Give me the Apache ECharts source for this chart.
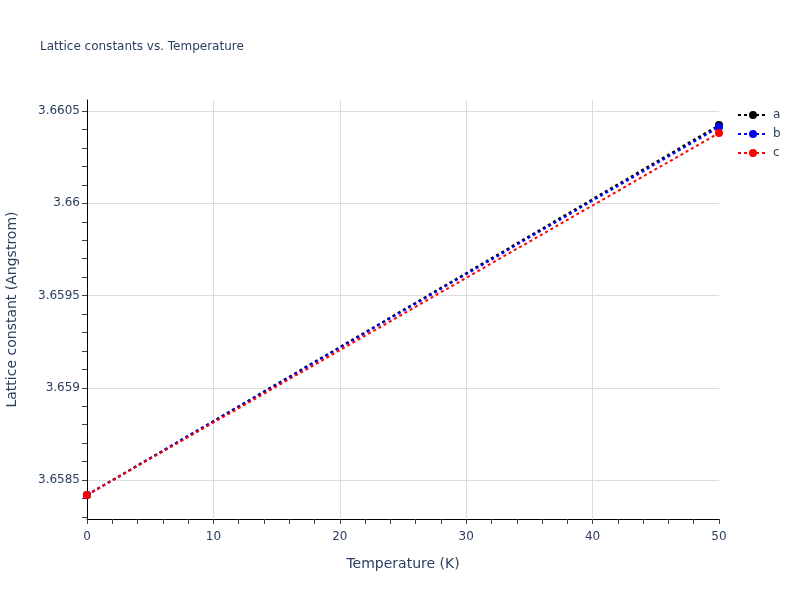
<!DOCTYPE html>
<html>
<head>
<meta charset="utf-8">
<script src="https://cdn.jsdelivr.net/npm/echarts@6/dist/echarts.min.js"></script>
<style>html,body{margin:0;padding:0;background:#fff}#c{width:800px;height:600px}</style>
</head>
<body>
<div id="c"></div>
<script>
const temperatures = [0, 50];
const seriesA = [3.658419, 3.660424];
const seriesB = [3.658419, 3.660413];
const seriesC = [3.658419, 3.660381];
const seriesNames = ['a', 'b', 'c'];
const seriesColors = ['#000000', '#0000ff', '#ff0000'];
const yLabelValues = [3.6585, 3.659, 3.6595, 3.66, 3.6605];
const yMin = 3.658289, yMax = 3.66056;
const yMinorValues = [];
for (let i = 36583; i <= 36605; i++) yMinorValues.push(i / 10000);

const font = '"DejaVu Sans", Verdana, sans-serif';
const txt = '#2a3f5f';
const chart = echarts.init(document.getElementById('c'));
const data = [seriesA, seriesB, seriesC];
chart.setOption({
  animation: false,
  title: {text: 'Lattice constants vs. Temperature', left: 35, top: 36,
    textStyle: {fontFamily: font, fontSize: 12, fontWeight: 'normal', color: txt}},
  legend: {orient: 'vertical', left: 737, top: 109, padding: 0, itemWidth: 30, itemHeight: 10, itemGap: 7,
    textStyle: {fontFamily: font, fontSize: 12, color: txt},
    lineStyle: {width: 2},
    data: seriesNames},
  grid: {left: 87, right: 81, top: 100, bottom: 81, containLabel: false, outerBoundsMode: 'none'},
  xAxis: {type: 'value', min: 0, max: 50, interval: 10,
    name: 'Temperature (K)', nameLocation: 'middle', nameGap: 38,
    nameTextStyle: {fontFamily: font, fontSize: 14, color: txt},
    axisLine: {show: true, onZero: false, lineStyle: {color: '#000', width: 1}},
    axisTick: {show: true, length: 5, lineStyle: {color: '#444'}},
    minorTick: {show: true, splitNumber: 5, length: 5, lineStyle: {color: '#444'}},
    axisLabel: {fontFamily: font, fontSize: 12, color: txt, margin: 12},
    splitLine: {show: true, showMinLine: false, showMaxLine: false, lineStyle: {color: '#dcdcdc', width: 1}}},
  yAxis: [{type: 'value', min: yMin, max: yMax,
    name: 'Lattice constant (Angstrom)', nameLocation: 'middle', nameGap: 68,
    nameTextStyle: {fontFamily: font, fontSize: 14, color: txt},
    axisLine: {show: true, lineStyle: {color: '#000', width: 1}},
    axisTick: {show: false, customValues: yLabelValues},
    axisLabel: {fontFamily: font, fontSize: 12, color: txt, margin: 7, customValues: yLabelValues,
      formatter: v => String(+v.toFixed(4))},
    splitLine: {show: true, lineStyle: {color: '#dcdcdc', width: 1}}},
   {type: 'value', min: yMin, max: yMax, position: 'left', offset: 0,
    axisLine: {show: false},
    axisTick: {show: true, length: 5, customValues: yMinorValues, lineStyle: {color: '#444'}},
    axisLabel: {show: false},
    splitLine: {show: false}}],
  series: seriesNames.map((n, i) => ({
    name: n, type: 'line', yAxisIndex: 0,
    data: temperatures.map((t, j) => [t, data[i][j]]),
    symbol: 'circle', symbolSize: 8, showSymbol: true,
    itemStyle: {color: seriesColors[i]},
    lineStyle: {color: seriesColors[i], width: 2, type: [3, 3]},
    z: 2 + i
  }))
});
</script>
</body>
</html>
